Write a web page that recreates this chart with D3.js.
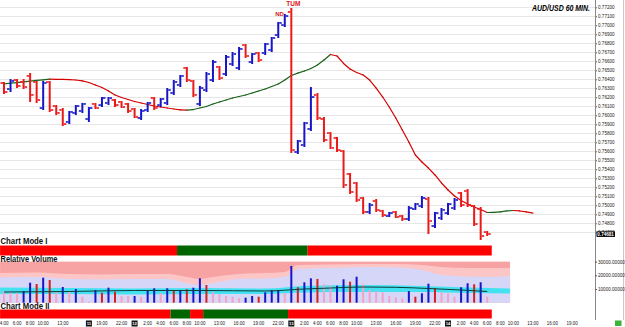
<!DOCTYPE html>
<html><head><meta charset="utf-8">
<script src="https://cdn.jsdelivr.net/npm/d3@7"></script>
<style>body{margin:0;background:#fff}svg{display:block}text{font-family:"Liberation Sans",Arial,sans-serif}</style>
</head><body><svg id="c" width="625" height="327"></svg>
<script>
// ---------- DATA ----------
const opens  = [0.76359,0.76292,0.76392,0.76370,0.76437,0.76370,0.76081,0.76370,0.76103,0.76059,0.75926,0.76026,0.76048,0.75959,0.76126,0.76114,0.76137,0.76170,0.76148,0.76126,0.76070,0.75970,0.76059,0.76192,0.76114,0.76137,0.76248,0.76337,0.76526,0.76381,0.76126,0.76281,0.76392,0.76537,0.76459,0.76570,0.76526,0.76781,0.76592,0.76692,0.76692,0.76726,0.76892,0.77003,0.77148,0.75592,0.75670,0.75848,0.76226,0.75959,0.75803,0.75748,0.75603,0.75348,0.75248,0.75081,0.74926,0.75048,0.74937,0.74881,0.74926,0.74881,0.74848,0.74959,0.74992,0.75070,0.74770,0.74859,0.74914,0.74970,0.75137,0.75159,0.74992,0.74959,0.74703];
const highs  = [0.76370,0.76403,0.76403,0.76403,0.76470,0.76381,0.76381,0.76381,0.76114,0.76081,0.76048,0.76114,0.76137,0.76092,0.76137,0.76203,0.76203,0.76181,0.76159,0.76137,0.76081,0.76070,0.76148,0.76203,0.76192,0.76303,0.76392,0.76448,0.76537,0.76392,0.76326,0.76481,0.76614,0.76548,0.76670,0.76703,0.76759,0.76792,0.76692,0.76703,0.76803,0.76870,0.77037,0.77126,0.77192,0.75726,0.75926,0.76314,0.76248,0.75981,0.75814,0.75759,0.75614,0.75359,0.75259,0.75092,0.75026,0.75070,0.74948,0.74926,0.74937,0.74892,0.74992,0.75026,0.75103,0.75092,0.74926,0.74970,0.75026,0.75081,0.75148,0.75181,0.75003,0.74981,0.74714];
const lows   = [0.76237,0.76259,0.76303,0.76292,0.76148,0.76137,0.76059,0.76037,0.76003,0.75881,0.75903,0.76003,0.76026,0.75926,0.76070,0.76092,0.76114,0.76092,0.76081,0.76026,0.75970,0.75948,0.76037,0.76059,0.76092,0.76114,0.76226,0.76314,0.76370,0.76203,0.76103,0.76259,0.76370,0.76392,0.76437,0.76548,0.76503,0.76637,0.76570,0.76592,0.76670,0.76703,0.76859,0.76981,0.75581,0.75570,0.75648,0.75826,0.75948,0.75703,0.75626,0.75592,0.75192,0.75126,0.75037,0.74903,0.74903,0.74926,0.74870,0.74870,0.74859,0.74826,0.74826,0.74948,0.74970,0.74681,0.74748,0.74837,0.74892,0.74948,0.74981,0.74981,0.74770,0.74614,0.74659];
const closes = [0.76259,0.76381,0.76326,0.76314,0.76226,0.76170,0.76359,0.76059,0.76026,0.75903,0.76037,0.76103,0.76126,0.76081,0.76081,0.76192,0.76192,0.76114,0.76092,0.76048,0.75981,0.76048,0.76137,0.76081,0.76181,0.76281,0.76370,0.76437,0.76392,0.76226,0.76303,0.76459,0.76592,0.76414,0.76648,0.76681,0.76737,0.76659,0.76681,0.76614,0.76792,0.76859,0.77026,0.77103,0.75614,0.75714,0.75914,0.76203,0.75970,0.75726,0.75637,0.75614,0.75226,0.75148,0.75059,0.74926,0.75003,0.74948,0.74892,0.74914,0.74870,0.74848,0.74970,0.75014,0.75081,0.74826,0.74914,0.74948,0.75014,0.75059,0.75003,0.75003,0.74792,0.74659,0.74681];
// displaced moving average (extends 7 bars beyond the last bar)
const maValues = [0.76348,0.76357,0.76364,0.76372,0.76380,0.76388,0.76394,0.76401,0.76400,0.76399,0.76397,0.76392,0.76383,0.76364,0.76337,0.76309,0.76270,0.76226,0.76198,0.76176,0.76153,0.76137,0.76120,0.76103,0.76092,0.76081,0.76070,0.76061,0.76057,0.76064,0.76081,0.76098,0.76126,0.76148,0.76170,0.76192,0.76209,0.76226,0.76248,0.76270,0.76292,0.76320,0.76348,0.76392,0.76442,0.76468,0.76492,0.76520,0.76559,0.76614,0.76676,0.76659,0.76576,0.76514,0.76475,0.76448,0.76392,0.76303,0.76203,0.76092,0.75970,0.75837,0.75703,0.75559,0.75481,0.75414,0.75337,0.75248,0.75170,0.75103,0.75053,0.75014,0.74981,0.74953,0.74920,0.74922,0.74928,0.74937,0.74942,0.74937,0.74926,0.74914];
const volumes = [8540,7810,7080,8540,14600,13650,18250,16570,7810,11460,7810,10000,4380,730,9270,7300,10950,8030,4890,4890,4890,4380,8540,10510,7080,10510,8540,9270,9780,10950,17810,12920,7590,6130,4890,4380,3210,3650,4890,4380,7590,9270,9270,7080,26790,11240,14890,17810,17300,13430,12410,12410,17080,15330,18980,13430,9270,8540,7590,4890,3940,3210,8540,4380,6860,13870,10510,7590,6860,4380,11240,14160,13430,14890,4380];
const volKinds = ["p","p","p","b","b","r","b","r","p","b","p","b","p","p","b","r","b","r","p","p","b","p","b","b","p","b","r","b","r","b","b","r","p","p","p","p","p","b","b","r","b","b","b","p","b","r","b","b","r","p","p","b","b","r","b","p","p","p","p","p","p","p","b","r","b","b","r","p","p","p","b","b","r","b","p"];
const bandIdx   = [-0.6,5,10,15,20,25,28,30,32,36,40,43,45,50,55,60,64,67,71,74,77.5];
const bandLight = [21680,22050,20950,20590,20950,20950,18760,17300,18760,20950,21680,22410,27520,27890,28250,28250,27520,26060,25330,25330,25330];
const bandLav   = [18470,18760,17300,16940,17300,17300,14380,12920,14380,17300,17670,18760,24600,25330,26060,25700,23870,20220,19130,18760,19490];
const cyanIdx = [-0.6,10,20,30,40,46,55,64,71,77.5];
const cyanTop = [11100,10730,10370,10730,10370,12190,12920,12190,11100,10370];
const cyanBot = [6350,6350,5990,6350,6350,7450,7810,7810,7080,6720];
const avgIdx = [0,10,20,30,40,46,50,55,60,65,70,74];
const avgVol = [7810,8180,8910,8910,8540,10000,10730,11460,11240,10370,9270,8180];
const volTop = 30000;
const modeIEdges  = [-0.6,26.5,46.5,74.7];
const modeIKinds  = ["r","g","r"];
const modeIIEdges = [-0.6,25.5,28.5,30.5,43.5,74.7];
const modeIIKinds = ["r","g","r","g","r"];
const priceTicks = [0.773,0.772,0.771,0.770,0.769,0.768,0.767,0.766,0.765,0.764,0.763,0.762,0.761,0.760,0.759,0.758,0.757,0.756,0.755,0.754,0.753,0.752,0.751,0.750,0.749,0.748,0.747];
const volTicks = [10000,20000,30000];
const timeIdx  = [0,2,4,6,9,15,18,22,24,26,28,30,33,36,39,42,46,48,50,52,54,57,60,63,66,70,72,74,76,78,81,84,87];
const timeText = ["4:00","6:00","8:00","10:00","13:00","19:00","22:00","2:00","4:00","6:00","8:00","10:00","13:00","16:00","19:00","22:00","2:00","4:00","6:00","8:00","10:00","13:00","16:00","19:00","22:00","2:00","4:00","6:00","8:00","10:00","13:00","16:00","19:00"];
const dateIdx  = [13,20,44,68];
const dateText = ["11","12","13","14"];
const signals = [{i:42.2,t:"ND",dy:15.5,fs:6},{i:44.3,t:"TUM",dy:6.3,fs:6.5}];

// ---------- COLOURS ----------
const BLUE="#1616c8", RED="#ea1a1a", PINK="#f4a3c6", MODE_R="#ff0000", MODE_G="#006400";

// ---------- SCALES ----------
const svg = d3.select("#c");
const x  = d3.scaleLinear().domain([0,74]).range([4,487.2]);
const yP = d3.scaleLinear().domain([0.747,0.772]).range([232.3,7.3]);
const yV = d3.scaleLinear().domain([0,30000]).range([302.7,261.6]);

// gridlines
svg.append("g").selectAll("line").data(priceTicks).join("line")
  .attr("x1",0).attr("x2",595)
  .attr("y1",d=>Math.round(yP(d))+0.5).attr("y2",d=>Math.round(yP(d))+0.5)
  .attr("stroke","#e6e6e6").attr("stroke-width",1);

// moving average, coloured by slope
const maPts = maValues.map((v,i)=>[i,v]);
const line = d3.line().x(d=>x(d[0])).y(d=>yP(d[1]));
svg.append("g").selectAll("path").data(d3.pairs(maPts)).join("path")
  .attr("d",d=>line(d)).attr("fill","none")
  .attr("stroke",d=>d[1][1]>d[0][1]?"#176017":"#d40000")
  .attr("stroke-width",1.2).attr("stroke-linecap","round");

// OHLC bars
const bars = opens.map((o,i)=>({i,o,h:highs[i],l:lows[i],c:closes[i]}));
const col = d=>d.c>=d.o?BLUE:RED;
const gb = svg.append("g");
gb.selectAll("rect.v").data(bars).join("rect").attr("class","v")
  .attr("x",d=>x(d.i)-1).attr("width",2)
  .attr("y",d=>yP(d.h)).attr("height",d=>Math.max(1,yP(d.l)-yP(d.h))).attr("fill",col);
gb.selectAll("rect.o").data(bars).join("rect").attr("class","o")
  .attr("x",d=>x(d.i)-3.5).attr("width",2.5)
  .attr("y",d=>yP(d.o)-0.8).attr("height",1.6).attr("fill",col);
gb.selectAll("rect.c").data(bars).join("rect").attr("class","c")
  .attr("x",d=>x(d.i)+1).attr("width",2.5)
  .attr("y",d=>yP(d.c)-0.8).attr("height",1.6).attr("fill",col);

// signal labels
svg.append("g").selectAll("text").data(signals).join("text")
  .attr("x",d=>x(d.i)).attr("y",d=>d.dy).attr("text-anchor","middle")
  .attr("font-size",d=>d.fs).attr("font-weight","bold").attr("fill","#e01818").text(d=>d.t);

// title
svg.append("text").attr("x",532).attr("y",10.5).attr("font-size",8.3)
  .attr("font-weight","bold").attr("font-style","italic").attr("fill","#000")
  .attr("textLength",58).attr("lengthAdjust","spacingAndGlyphs").text("AUD/USD 60 MIN.");

// price axis
const ax = svg.append("g").attr("transform","translate(595,0)")
  .call(d3.axisRight(yP).tickValues(priceTicks).tickSize(2).tickPadding(1).tickFormat(d3.format(".5f")));
ax.select(".domain").remove();
ax.selectAll("text").attr("font-size",4.6).attr("fill","#222").style("font-family","'Liberation Sans',Arial");
ax.selectAll("line").attr("stroke","#555");

// current price box
const last = closes[closes.length-1];
svg.append("rect").attr("x",596.5).attr("y",yP(last)-2.7).attr("width",18.5).attr("height",5.6).attr("fill","#000");
svg.append("text").attr("x",597.3).attr("y",yP(last)+1.7).attr("font-size",4.6).attr("font-weight","bold")
  .attr("fill","#fff").text(d3.format(".5f")(last));

// vertical frame lines
svg.append("line").attr("x1",595.5).attr("x2",595.5).attr("y1",0).attr("y2",320).attr("stroke","#888");
svg.append("line").attr("x1",623.5).attr("x2",623.5).attr("y1",0).attr("y2",320).attr("stroke","#c8c8c8");

// Chart Mode I
function modeBar(edges,kinds,y0,h){
  const segs = kinds.map((k,j)=>({a:edges[j],b:edges[j+1],k}));
  svg.append("g").selectAll("rect").data(segs).join("rect")
    .attr("x",d=>x(d.a)).attr("width",d=>x(d.b)-x(d.a)).attr("y",y0).attr("height",h)
    .attr("fill",d=>d.k==="r"?MODE_R:MODE_G);
}
modeBar(modeIEdges,modeIKinds,245.5,10);
modeBar(modeIIEdges,modeIIKinds,309.5,9);

// Relative volume panel
const gv = svg.append("g");
gv.append("rect").attr("x",x(bandIdx[0])).attr("width",x(bandIdx[bandIdx.length-1])-x(bandIdx[0]))
  .attr("y",yV(volTop)).attr("height",yV(0)-yV(volTop)).attr("fill","#f8a3a3");
const area = d3.area().curve(d3.curveMonotoneX).x(d=>x(d[0])).y0(yV(0)).y1(d=>yV(d[1]));
gv.append("path").attr("d",area(bandIdx.map((v,i)=>[v,bandLight[i]]))).attr("fill","#fcc6c6");
gv.append("path").attr("d",area(bandIdx.map((v,i)=>[v,bandLav[i]]))).attr("fill","#d6d6f8");
const carea = d3.area().curve(d3.curveMonotoneX).x(d=>x(d[0])).y0(d=>yV(d[2])).y1(d=>yV(d[1]));
gv.append("path").attr("d",carea(cyanIdx.map((v,i)=>[v,cyanTop[i],cyanBot[i]]))).attr("fill","#44e2f0");
gv.selectAll("rect.vb").data(volumes).join("rect").attr("class","vb")
  .attr("x",(d,i)=>x(i)-1).attr("width",2)
  .attr("y",d=>yV(d)).attr("height",d=>yV(0)-yV(d))
  .attr("fill",(d,i)=>volKinds[i]==="b"?BLUE:volKinds[i]==="r"?"#d42020":PINK);
gv.append("path").attr("d",d3.line().curve(d3.curveMonotoneX).x(d=>x(d[0])).y(d=>yV(d[1]))(avgIdx.map((v,i)=>[v,avgVol[i]])))
  .attr("fill","none").attr("stroke","#0d3b3b").attr("stroke-width",1);

const vax = svg.append("g").attr("transform","translate(595,0)")
  .call(d3.axisRight(yV).tickValues(volTicks).tickSize(2).tickPadding(1).tickFormat(d3.format(".5f")));
vax.select(".domain").remove();
vax.selectAll("text").attr("font-size",4.6).attr("fill","#222").style("font-family","'Liberation Sans',Arial");
vax.selectAll("line").attr("stroke","#555");

// panel titles
const titles=[{t:"Chart Mode I",y:243.5,w:47},{t:"Relative Volume",y:262,w:57},{t:"Chart Mode II",y:309,w:49}];
svg.append("g").selectAll("text").data(titles).join("text")
  .attr("x",0.5).attr("y",d=>d.y).attr("font-size",8.5).attr("font-weight","bold").attr("fill","#111")
  .attr("textLength",d=>d.w).attr("lengthAdjust","spacingAndGlyphs").text(d=>d.t);

// time axis
svg.append("g").selectAll("text").data(timeIdx).join("text")
  .attr("x",d=>x(d)).attr("y",324.8).attr("text-anchor","middle")
  .attr("font-size",4.5).attr("fill","#222").text((d,i)=>timeText[i]);
const gd = svg.append("g").selectAll("g").data(dateIdx).join("g");
gd.append("rect").attr("x",d=>x(d)-3).attr("y",320.5).attr("width",6).attr("height",6).attr("fill","#111");
gd.append("text").attr("x",d=>x(d)).attr("y",325.2).attr("text-anchor","middle")
  .attr("font-size",4.2).attr("font-weight","bold").attr("fill","#fff").text((d,i)=>dateText[i]);
svg.append("rect").attr("x",615).attr("y",320.5).attr("width",6.5).attr("height",5.5).attr("fill","#3cb43c");
</script></body></html>
